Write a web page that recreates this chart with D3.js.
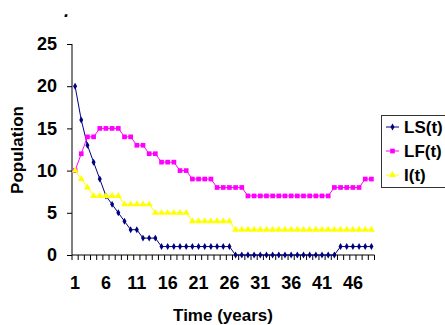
<!DOCTYPE html>
<html><head><meta charset="utf-8">
<script src="https://cdn.jsdelivr.net/npm/d3@7/dist/d3.min.js"></script>
<style>body{margin:0;background:#fff;overflow:hidden}svg{display:block}text{font-family:"Liberation Sans",Arial,sans-serif;font-weight:bold}</style>
</head><body><svg id="c" width="445" height="325"></svg>
<script>
const years = d3.range(1, 50);
const LS = [20,16,13,11,9,7,6,5,4,3,3,2,2,2,1,1,1,1,1,1,1,1,1,1,1,1,0,0,0,0,0,0,0,0,0,0,0,0,0,0,0,0,0,1,1,1,1,1,1];
const LF = [10,12,14,14,15,15,15,15,14,14,13,13,12,12,11,11,11,10,10,9,9,9,9,8,8,8,8,8,7,7,7,7,7,7,7,7,7,7,7,7,7,7,8,8,8,8,8,9,9];
const I  = [10,9,8,7,7,7,7,7,6,6,6,6,6,5,5,5,5,5,5,4,4,4,4,4,4,4,3,3,3,3,3,3,3,3,3,3,3,3,3,3,3,3,3,3,3,3,3,3,3];
const yTicks = [0,5,10,15,20,25];
const xLabels = [1,6,11,16,21,26,31,36,41,46];
const seriesNames = ["LS(t)","LF(t)","I(t)"];

const svg = d3.select("#c");
const x = d3.scaleBand().domain(years).range([72, 374.5]);
const cx = d => x(d) + x.bandwidth()/2;
const y = d3.scaleLinear().domain([0,25]).range([255, 44]);

// y axis
const ya = svg.append("g").attr("transform","translate(72,0)")
  .call(d3.axisLeft(y).tickValues(yTicks).tickSize(5).tickPadding(10));
ya.select(".domain").attr("stroke","#000").attr("d","M0,"+y(25)+"V"+y(0));
ya.selectAll(".tick line").attr("stroke","#000");
ya.selectAll("text").attr("font-size",18).attr("fill","#000").attr("font-weight","bold");

// x axis
const xa = svg.append("g");
xa.append("line").attr("x1",72).attr("x2",x.range()[1]).attr("y1",y(0)).attr("y2",y(0)).attr("stroke","#000");
const edges = years.map(d => x(d)).concat([x.range()[1]]);
xa.selectAll("line.t").data(edges).join("line").attr("class","t")
  .attr("x1",d=>d).attr("x2",d=>d).attr("y1",y(0)).attr("y2",y(0)+5).attr("stroke","#000");
xa.selectAll("text").data(xLabels).join("text")
  .attr("x",d=>cx(d)).attr("y",289).attr("text-anchor","middle").attr("font-size",18).text(d=>d);

// titles
svg.append("text").attr("x",223).attr("y",321).attr("text-anchor","middle").attr("font-size",17).text("Time (years)");
svg.append("text").attr("transform","translate(23,150) rotate(-90)").attr("text-anchor","middle").attr("font-size",17).text("Population");
svg.append("text").attr("x",64).attr("y",17).attr("font-size",18).attr("font-style","italic").text(".");

const series = [
  {name:seriesNames[0], vals:LS, color:"#000080", marker:"diamond"},
  {name:seriesNames[1], vals:LF, color:"#FF00FF", marker:"square"},
  {name:seriesNames[2], vals:I,  color:"#FFFF00", marker:"triangle"}
];
const sym = {
  diamond: d3.symbol().type(d3.symbolDiamond).size(14),
  square: d3.symbol().type(d3.symbolSquare).size(22),
  triangle: d3.symbol().type(d3.symbolTriangle).size(20)
};
const line = d3.line().x(d=>cx(d.t)).y(d=>y(d.v));
series.forEach(s => {
  const pts = years.map((t,i)=>({t, v:s.vals[i]}));
  svg.append("path").datum(pts).attr("d",line).attr("fill","none").attr("stroke",s.color).attr("stroke-width",1);
  svg.append("g").selectAll("path").data(pts).join("path")
    .attr("transform",d=>`translate(${cx(d.t)},${y(d.v)})`).attr("d",sym[s.marker]()).attr("fill",s.color);
});

// legend
const lg = svg.append("g");
lg.append("rect").attr("x",381.5).attr("y",115.5).attr("width",80).attr("height",72).attr("fill","#fff").attr("stroke","#333");
series.forEach((s,i) => {
  const yy = 127 + i*24;
  lg.append("line").attr("x1",386).attr("x2",399).attr("y1",yy).attr("y2",yy).attr("stroke",s.color);
  lg.append("path").attr("transform",`translate(392.5,${yy})`).attr("d",sym[s.marker]()).attr("fill",s.color);
  lg.append("text").attr("x",404).attr("y",yy+6).attr("font-size",17).text(s.name);
});
</script></body></html>
